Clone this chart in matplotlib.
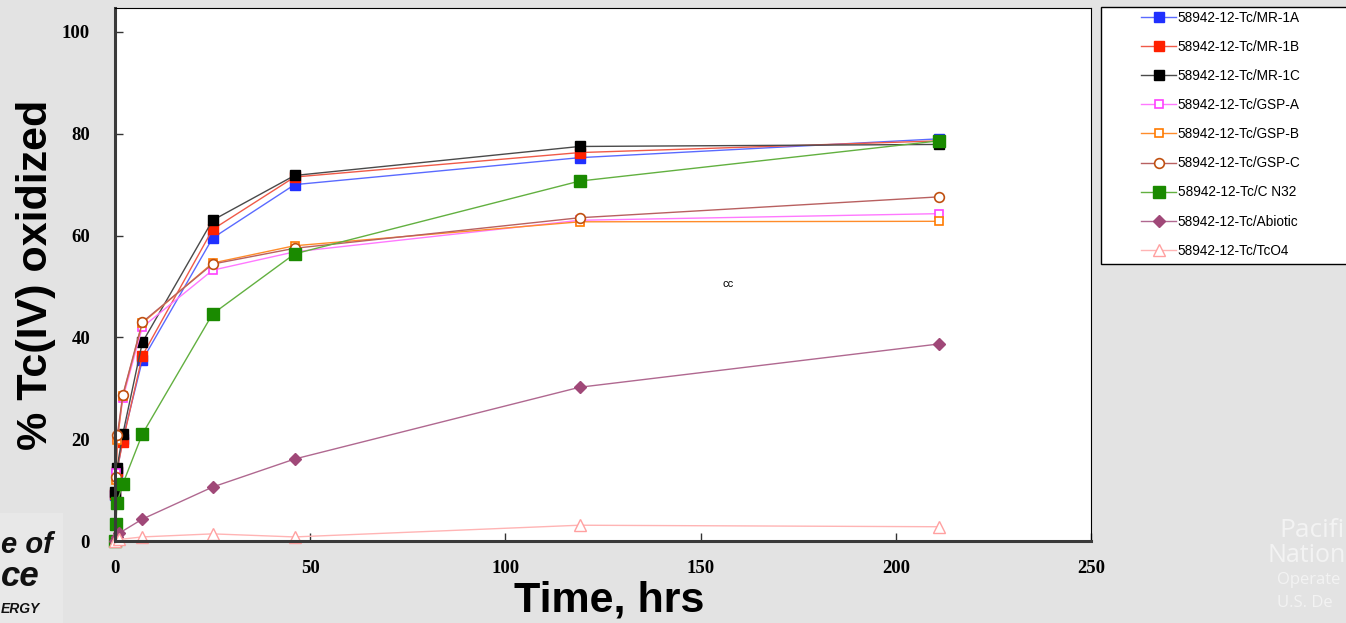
import matplotlib
matplotlib.use("Agg")
import matplotlib.pyplot as plt
from matplotlib.patches import Rectangle

# Sampling times (hours) for each group of runs
t_mr = [0.1, 0.5, 2, 7, 25, 46, 119, 211]
t_gsp = [0.2, 0.6, 2, 7, 25, 46, 119, 211]
t_cn32 = [0, 0.25, 0.5, 2, 7, 25, 46, 119, 211]
t_abiotic = [0, 0.5, 1, 7, 25, 46, 119, 211]
t_tco4 = [0, 1, 7, 25, 46, 119, 211]

# % Tc(IV) oxidized
mr_1a = [9.0, 13.5, 20.0, 35.5, 59.5, 70.0, 75.3, 79.0]
mr_1b = [9.3, 13.8, 19.5, 36.4, 61.2, 71.5, 76.3, 78.6]
mr_1c = [9.6, 14.3, 21.0, 39.0, 63.0, 71.8, 77.5, 77.9]
gsp_a = [13.4, 20.0, 28.0, 42.0, 53.2, 56.8, 63.0, 64.3]
gsp_b = [12.0, 19.8, 28.5, 42.8, 54.6, 58.0, 62.7, 62.8]
gsp_c = [12.5, 20.8, 28.7, 43.0, 54.4, 57.5, 63.5, 67.6]
cn32 = [0.0, 3.3, 7.5, 11.2, 21.0, 44.6, 56.4, 70.7, 78.6]
abiotic = [0.0, 0.8, 1.5, 4.3, 10.6, 16.1, 30.2, 38.7]
tco4 = [0.0, 0.3, 0.8, 1.4, 0.8, 3.1, 2.8]

labels = ["58942-12-Tc/MR-1A", "58942-12-Tc/MR-1B", "58942-12-Tc/MR-1C",
          "58942-12-Tc/GSP-A", "58942-12-Tc/GSP-B", "58942-12-Tc/GSP-C",
          "58942-12-Tc/C N32", "58942-12-Tc/Abiotic", "58942-12-Tc/TcO4"]

x_ticks = [0, 50, 100, 150, 200, 250]
y_ticks = [0, 20, 40, 60, 80, 100]

W, H = 1346, 623
fig = plt.figure(figsize=(W / 100, H / 100), dpi=100, facecolor="#e3e3e3")

# slide-background logo fragments at the edges
fig.add_artist(Rectangle((0, 0), 63 / W, 110 / H, transform=fig.transFigure,
                         facecolor="#e8e8e8", edgecolor="none", zorder=0))
for txt, x, y, fs in [("e of", 1, 553, 21), ("ce", 1, 586, 25), ("ERGY", 1, 613, 10)]:
    fig.text(x / W, 1 - y / H, txt, ha="left", va="baseline", fontsize=fs,
             fontweight="bold", style="italic", family="Liberation Sans",
             color="#111111")
for txt, x, y, fs in [("Pacifi", 1279, 537, 19),
                      ("Nation", 1268, 562, 18),
                      ("Operate", 1277, 584, 12),
                      ("U.S. De", 1277, 607, 12)]:
    fig.text(x / W, 1 - y / H, txt, ha="left", va="baseline", fontsize=fs,
             family="Open Sans", color="#f3f3f3")

ax = fig.add_axes([115 / W, 1 - 541 / H, (1091 - 115) / W, (541 - 8) / H])
ax.set_facecolor("white")

series = [
    (t_mr, mr_1a, dict(marker="s", ms=7, mfc="#2030ff", mec="#2030ff", color="#5a6aff")),
    (t_mr, mr_1b, dict(marker="s", ms=7, mfc="#ff2000", mec="#ff2000", color="#f05a48")),
    (t_mr, mr_1c, dict(marker="s", ms=7, mfc="black", mec="black", color="#4a4a4a")),
    (t_gsp, gsp_a, dict(marker="s", ms=6, mfc="white", mec="#ff40ff", mew=1.2, color="#ff78ff")),
    (t_gsp, gsp_b, dict(marker="s", ms=6, mfc="white", mec="#ff7a00", mew=1.2, color="#ff8c2a")),
    (t_gsp, gsp_c, dict(marker="o", ms=7, mfc="white", mec="#c05010", mew=1.2, color="#b86060")),
    (t_cn32, cn32, dict(marker="s", ms=8.5, mfc="#1a8a00", mec="#1a8a00", color="#62b040")),
    (t_abiotic, abiotic, dict(marker="D", ms=6, mfc="#a04878", mec="#a04878", color="#b06890")),
    (t_tco4, tco4, dict(marker="^", ms=8, mfc="white", mec="#ffa0a0", mew=1.0, color="#ffb4b4")),
]
handles = []
for (t, v, style), lab in zip(series, labels):
    h, = ax.plot(t, v, lw=1.0, label=lab, clip_on=False, **style)
    handles.append(h)

ax.set_xlim(0, 250)
ax.set_ylim(0, 104.7)
ax.set_xticks(x_ticks)
ax.set_yticks(y_ticks)
ax.tick_params(direction="in", length=6, width=1, colors="#333333")
ax.tick_params(axis="y", pad=18)
ax.tick_params(axis="x", pad=14)
for lab in ax.get_xticklabels() + ax.get_yticklabels():
    lab.set_fontfamily("Liberation Serif")
    lab.set_fontweight("bold")
    lab.set_fontsize(13.5)
    lab.set_color("black")

for side in ["left", "bottom"]:
    ax.spines[side].set_linewidth(2.2)
    ax.spines[side].set_color("#3a3a3a")
for side in ["top", "right"]:
    ax.spines[side].set_linewidth(0.8)
    ax.spines[side].set_color("black")

ax.set_xlabel("Time, hrs", fontsize=31, fontweight="bold", family="Liberation Sans",
              labelpad=2)
ax.xaxis.set_label_coords((609 - 115) / 976, -0.075)
ax.xaxis.label.set_va("top")
ax.set_ylabel("% Tc(IV) oxidized", fontsize=31, fontweight="bold",
              family="Liberation Sans", labelpad=4)

ax.text(157, 50.5, "cc", fontsize=8, family="Liberation Sans", ha="center", va="center")

# legend in its own framed box to the right of the plot
fig.add_artist(Rectangle((1101 / W, 1 - 264 / H), 250 / W, 257 / H,
                         transform=fig.transFigure, facecolor="white",
                         edgecolor="black", linewidth=1.0, zorder=1))
leg = fig.legend(handles=handles, loc="upper left",
                 bbox_to_anchor=(1134 / W, 1 - 4 / H), frameon=False,
                 borderpad=0, prop={"family": "Liberation Sans", "size": 9.8},
                 labelspacing=1.11, handlelength=2.6, handletextpad=0.1)
leg.set_zorder(2)

fig.savefig("out.png", dpi=100, facecolor=fig.get_facecolor())
